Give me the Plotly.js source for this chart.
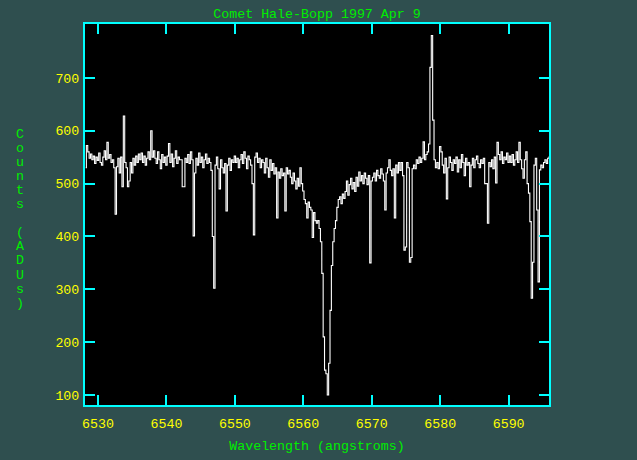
<!DOCTYPE html>
<html>
<head>
<meta charset="utf-8">
<script src="https://cdn.plot.ly/plotly-3.0.1.min.js"></script>
<style>html,body{margin:0;padding:0;background:#2f4f4f;}#chart{width:637px;height:460px;}</style>
</head>
<body>
<div id="chart"></div>
<script>
// Spectrum sampling (start wavelength and step, angstroms)
const lambdaStart = 6528.2;
const lambdaStep = 0.2;
// Counts (ADUs) per sample
const counts = [
530,572,560,548,556,545,552,538,550,544,
558,540,535,550,562,545,578,548,555,540,
545,530,442,532,548,520,550,494,628,540,
530,494,505,540,520,548,535,552,540,556,
545,558,540,552,535,548,560,545,600,550,
562,548,538,560,545,528,555,540,550,535,
552,576,540,556,532,548,562,538,550,545,
545,494,494,548,540,555,538,560,545,401,
520,548,535,558,540,550,530,545,556,538,
548,540,525,400,302,535,550,528,490,545,
530,520,538,448,535,548,525,545,540,552,
540,548,530,545,555,538,560,548,528,552,
545,535,500,403,550,558,540,548,530,545,
540,520,548,530,512,545,525,538,518,530,
435,522,510,528,515,520,448,530,518,525,
512,500,520,505,490,510,495,530,500,486,
470,462,435,465,455,450,398,445,430,425,
430,415,390,330,210,147,140,100,160,260,
345,390,415,430,455,470,475,462,480,472,
485,505,478,498,510,490,502,485,512,495,
522,505,515,500,520,510,498,515,350,505,
512,520,505,525,515,510,528,518,505,450,
520,530,545,525,515,528,435,535,520,540,
525,540,515,374,380,540,530,351,360,528,
535,528,545,538,550,540,548,579,545,555,
560,575,720,780,620,545,530,540,528,570,
560,535,520,548,471,530,550,540,525,545,
538,550,522,545,530,555,540,515,548,535,
540,494,535,548,530,545,552,538,530,545,
538,548,500,500,425,540,532,545,528,550,
501,578,555,545,560,538,550,545,558,540,
552,540,555,535,545,560,540,578,545,528,
510,545,560,500,482,428,283,351,535,548,
450,314,526,535,530,540,545,538,548,550
];
const xTicks = [6530,6540,6550,6560,6570,6580,6590];
const yTicks = [100,200,300,400,500,600,700];
const titleText = 'Comet Hale-Bopp 1997 Apr 9';
const xTitle = 'Wavelength (angstroms)';
const yTitle = 'Counts (ADUs)';

const mono = 'Liberation Mono, DejaVu Sans Mono, monospace';
const cyan = '#00ffff', yellow = '#ffff00', green = '#00ee00';
const fs = 13.3;

const trace = {
  type: 'scatter', mode: 'lines',
  x0: lambdaStart, dx: lambdaStep, y: counts,
  line: {color: '#ffffff', width: 1.1, shape: 'hvh'},
  hoverinfo: 'x+y'
};

// vertical, upright-letter y-axis title (one letter per line)
const plotTop = 24, plotBottom = 405, plotH = plotBottom - plotTop, plotLeft = 85, plotW = 464;
const letters = yTitle.split('');
const annotations = [];
letters.forEach((ch, k) => {
  if (ch === ' ') return;
  const ypx = 134 + 14.1 * k;
  annotations.push({
    text: ch, showarrow: false, xref: 'paper', yref: 'paper',
    x: (20 - plotLeft) / plotW, y: (plotBottom - ypx) / plotH,
    xanchor: 'center', yanchor: 'middle',
    font: {family: mono, size: fs, color: green}
  });
});

const axisCommon = {
  showgrid: false, zeroline: false,
  showline: true, linecolor: cyan, linewidth: 2, mirror: 'ticks',
  ticks: 'inside', ticklen: 10, tickwidth: 2, tickcolor: cyan,
  tickfont: {family: mono, size: fs, color: yellow}
};

const layout = {
  width: 637, height: 460,
  paper_bgcolor: '#2f4f4f', plot_bgcolor: '#000000',
  margin: {l: 85, r: 88, t: 24, b: 55, pad: 0},
  showlegend: false,
  title: {text: titleText, font: {family: mono, size: fs, color: green},
          x: 0.5, xref: 'paper', y: 1 - 13/460, yref: 'container', yanchor: 'middle'},
  xaxis: Object.assign({}, axisCommon, {
    range: [6528.1, 6595.9], tickvals: xTicks, ticktext: xTicks.map(String),
    ticklabelstandoff: 5,
    title: {text: xTitle, font: {family: mono, size: fs, color: green}, standoff: 10}
  }),
  yaxis: Object.assign({}, axisCommon, {
    range: [81, 802], tickvals: yTicks, ticktext: yTicks.map(String),
    ticklabelstandoff: 1
  }),
  annotations: annotations
};

Plotly.newPlot('chart', [trace], layout, {displayModeBar: false, staticPlot: true});
</script>
</body>
</html>
